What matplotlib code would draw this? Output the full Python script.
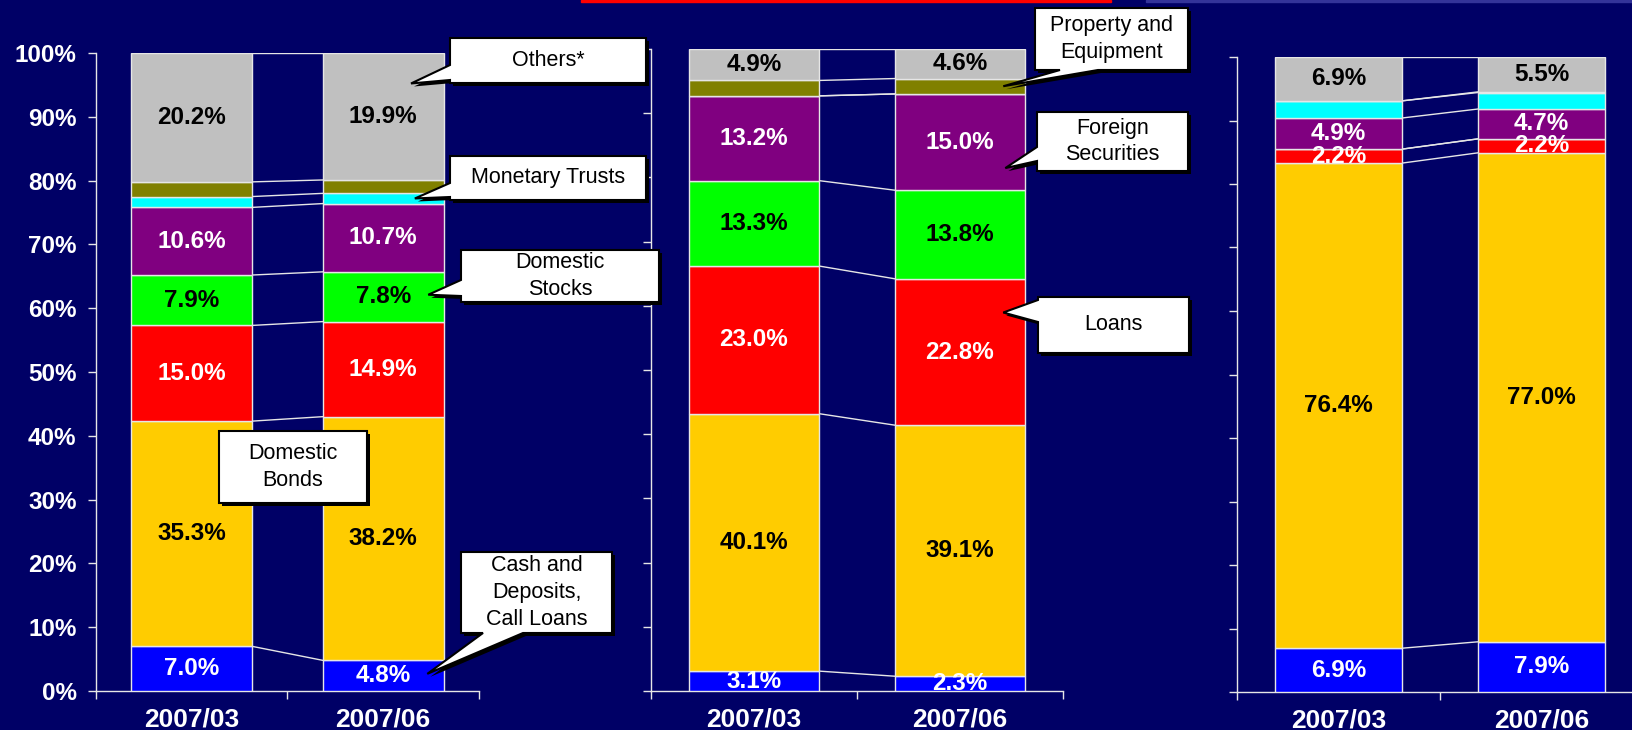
import numpy as np
import matplotlib
matplotlib.use("Agg")
import matplotlib.pyplot as plt
from matplotlib.patches import Polygon, Rectangle

plt.rcParams['font.family'] = ['Liberation Sans', 'DejaVu Sans']

W, H = 1633, 730
BG = '#000066'

periods = ['2007/03', '2007/06']
series = ['Cash and Deposits, Call Loans', 'Domestic Bonds', 'Loans', 'Domestic Stocks',
          'Foreign Securities', 'Monetary Trusts', 'Property and Equipment', 'Others*']
colors = ['#0000FF', '#FFCC00', '#FF0000', '#00FF00', '#800080', '#00FFFF', '#808000', '#C0C0C0']
text_colors = ['white', 'black', 'white', 'black', 'white', None, None, 'black']

# share of total assets (%), bottom to top, [2007/03, 2007/06]
general = [[7.0, 4.8], [35.3, 38.2], [15.0, 14.9], [7.9, 7.8],
           [10.6, 10.7], [1.7, 1.6], [2.3, 2.1], [20.2, 19.9]]
individual = [[3.1, 2.3], [40.1, 39.1], [23.0, 22.8], [13.3, 13.8],
              [13.2, 15.0], [0.0, 0.0], [2.4, 2.4], [4.9, 4.6]]
group = [[6.9, 7.9], [76.4, 77.0], [2.2, 2.2], [0.0, 0.0],
         [4.9, 4.7], [2.7, 2.6], [0.0, 0.1], [6.9, 5.5]]

xs = np.array([0.5, 1.5])
bar_w = 0.63


def px_rect(l, t, r, b):
    return [l / W, 1 - b / H, (r - l) / W, (b - t) / H]


def draw_panel(ax, values, show_y):
    bottom = np.zeros(2)
    for vals, c, tc in zip(values, colors, text_colors):
        vals = np.array(vals)
        ax.bar(xs, vals, bar_w, bottom=bottom, color=c, edgecolor='#E6E6E6',
               linewidth=1, zorder=3)
        top = bottom + vals
        # series line joining the two columns
        ax.plot([xs[0] + bar_w / 2, xs[1] - bar_w / 2], top, color='#E6E6E6',
                lw=1, zorder=2)
        if tc:
            for x, b, v in zip(xs, bottom, vals):
                if v > 0:
                    ax.text(x, b + v / 2, f'{v:.1f}%', ha='center', va='center',
                            color=tc, fontsize=17.5, fontweight='bold', zorder=4)
        bottom = top

    ax.set_facecolor('none')
    ax.set_xlim(0, 2)
    ax.set_ylim(0, 100)
    ax.set_xticks([0, 1, 2])
    ax.set_xticklabels([])
    ax.set_xticks(xs, minor=True)
    ax.set_xticklabels(periods, minor=True, fontweight='bold')
    ax.tick_params(axis='x', which='minor', length=0, pad=12, labelsize=19,
                   labelcolor='white')
    ax.tick_params(axis='x', which='major', length=6, width=1, color='#E6E6E6')
    ax.set_yticks(np.arange(0, 101, 10))
    ax.yaxis.set_major_formatter(lambda v, p: f'{v:.0f}%')
    ax.tick_params(axis='y', length=6, width=1, color='#E6E6E6', labelsize=17.5,
                   labelcolor='white', pad=8, labelleft=show_y)
    for lbl in ax.get_yticklabels():
        lbl.set_fontweight('bold')
    for s in ['top', 'right']:
        ax.spines[s].set_visible(False)
    for s in ['left', 'bottom']:
        ax.spines[s].set_color('#E6E6E6')
        ax.spines[s].set_linewidth(1)


fig = plt.figure(figsize=(W / 100, H / 100), dpi=100, facecolor=BG)

# thin header strips along the top edge
fig.add_artist(Rectangle((581 / W, 1 - 2 / H), 530 / W, 2 / H, color='#FF0000',
                         transform=fig.transFigure))
fig.add_artist(Rectangle((1146 / W, 1 - 2 / H), (W - 1146) / W, 2 / H, color='#333399',
                         transform=fig.transFigure))

ax1 = fig.add_axes(px_rect(96, 53, 479, 691))
ax2 = fig.add_axes(px_rect(651, 49, 1063, 691))
ax3 = fig.add_axes(px_rect(1237, 57, 1643, 692))
draw_panel(ax1, general, True)
draw_panel(ax2, individual, False)
draw_panel(ax3, group, False)
panels = [(ax1, general), (ax2, individual)]


def tip_px(ax, values, idx, frac, x):
    col = [v[1] for v in values]
    y = sum(col[:idx]) + frac * col[idx]
    dx, dy = ax.transData.transform((x, y))
    return dx, H - dy


def callout(text, box, side=None, base=None, tip=None):
    l, t, r, b = box
    if side == 'left':
        pts = [(l, t), (r, t), (r, b), (l, b), (l, base[1]), tip, (l, base[0])]
    elif side == 'bottom':
        pts = [(l, t), (r, t), (r, b), (base[1], b), tip, (base[0], b), (l, b)]
    else:
        pts = [(l, t), (r, t), (r, b), (l, b)]
    shadow = [((x + 3) / W, 1 - (y + 3) / H) for x, y in pts]
    shape = [(x / W, 1 - y / H) for x, y in pts]
    fig.add_artist(Polygon(shadow, closed=True, fc='black', ec='none',
                           transform=fig.transFigure, zorder=5))
    fig.add_artist(Polygon(shape, closed=True, fc='white', ec='black', lw=1.5,
                           joinstyle='miter', transform=fig.transFigure, zorder=6))
    fig.text((l + r) / 2 / W, 1 - (t + b) / 2 / H, text, ha='center', va='center',
             fontsize=15.5, color='black', linespacing=1.35, zorder=7)


# text, panel, series, position within segment, x of tip, box (l, t, r, b), side, wedge base
notes = [
    ('Others*', 0, 7, 0.76, 1.645, (450, 38, 646, 83), 'left', (65, 80)),
    ('Monetary Trusts', 0, 5, 0.5, 1.665, (450, 156, 646, 200), 'left', (183, 197)),
    ('Domestic\nStocks', 0, 3, 0.54, 1.735, (461, 250, 659, 302), 'left', (280, 296)),
    ('Cash and\nDeposits,\nCall Loans', 0, 0, 0.56, 1.73, (461, 552, 612, 633), 'bottom', (483, 523)),
    ('Property and\nEquipment', 1, 6, 0.5, 1.71, (1035, 8, 1188, 70), 'bottom', (1060, 1098)),
    ('Foreign\nSecurities', 1, 4, 0.23, 1.72, (1037, 112, 1188, 171), 'left', (147, 161)),
    ('Loans', 1, 2, 0.77, 1.71, (1038, 297, 1189, 353), 'left', (300, 322)),
]
for text, p, idx, frac, x, box, side, base in notes:
    ax, vals = panels[p]
    callout(text, box, side, base, tip_px(ax, vals, idx, frac, x))
callout('Domestic\nBonds', (219, 431, 367, 503))

fig.savefig('out.png', dpi=100, facecolor=BG)
